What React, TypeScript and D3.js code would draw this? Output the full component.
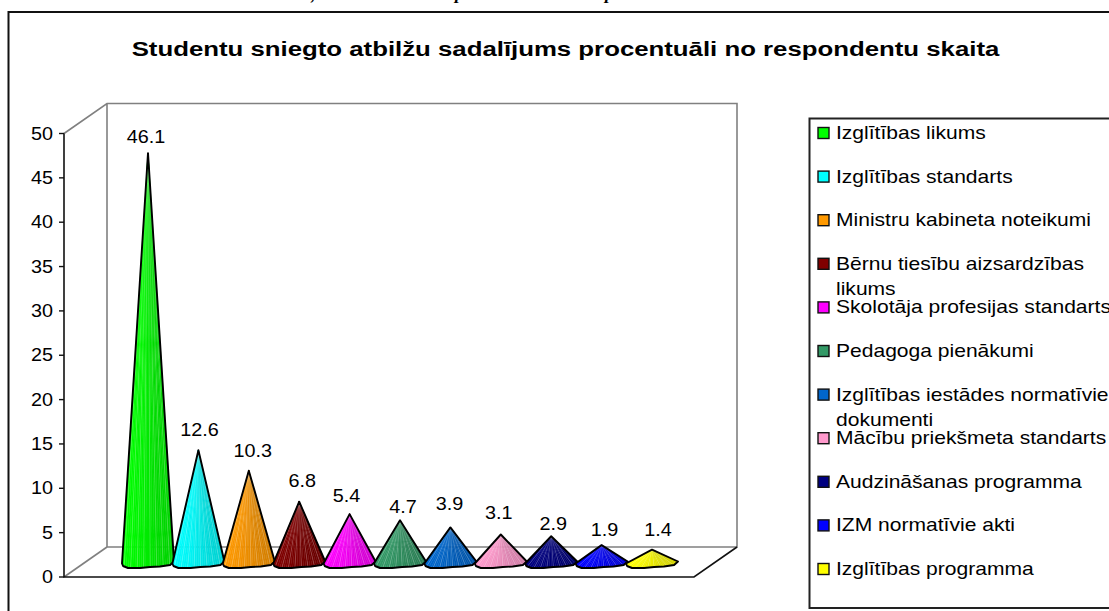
import React from "react";
import * as d3 from "d3";

const categories = [
  "Izglītības likums",
  "Izglītības standarts",
  "Ministru kabineta noteikumi",
  "Bērnu tiesību aizsardzības likums",
  "Skolotāja profesijas standarts",
  "Pedagoga pienākumi",
  "Izglītības iestādes normatīvie dokumenti",
  "Mācību priekšmeta standarts",
  "Audzināšanas programma",
  "IZM normatīvie akti",
  "Izglītības programma",
];
const values = [46.1, 12.6, 10.3, 6.8, 5.4, 4.7, 3.9, 3.1, 2.9, 1.9, 1.4];
const colors = ["#00ff00", "#00ffff", "#ff9900", "#800000", "#ff00ff", "#339966", "#0066cc", "#ff99cc", "#000080", "#0000ff", "#ffff00"];
const legendLines = [
  ["Izglītības likums"],
  ["Izglītības standarts"],
  ["Ministru kabineta noteikumi"],
  ["Bērnu tiesību aizsardzības", "likums"],
  ["Skolotāja profesijas standarts"],
  ["Pedagoga pienākumi"],
  ["Izglītības iestādes normatīvie", "dokumenti"],
  ["Mācību priekšmeta standarts"],
  ["Audzināšanas programma"],
  ["IZM normatīvie akti"],
  ["Izglītības programma"],
];
const yTicks = [0, 5, 10, 15, 20, 25, 30, 35, 40, 45, 50];
const title = "Studentu sniegto atbilžu sadalījums procentuāli no respondentu skaita";

// label placement nudges (px above apex, px right of apex)
const labelLift = [10, 14, 14, 15, 12, 7, 17, 16, 6, 9, 14];
const labelShift = [-2, 1, 4, 3, -3, 3, -1, -2, 2, 3, 6];
// shape of the cone's faceted base: fraction of half-width, px below centre
const baseProfile: [number, number][] = [
  [-1, 1.5], [-0.96, 4], [-0.77, 6], [-0.3, 6], [0.08, 5], [0.46, 4.5], [0.85, 3], [1, -0.5],
];

const FONT = "'Liberation Sans', Arial, sans-serif";

const y = d3.scaleLinear().domain([0, 50]).range([577, 133.5]);
const x = d3.scalePoint<string>().domain(categories).range([148, 652]);
const depth = { dx: 43, dy: -30 };
const front = { left: 64, right: 694 };
const legendY = d3.scaleLinear().domain([0, 10]).range([133, 569]);

const line = d3.line<[number, number]>();
const profX = d3.scaleLinear().domain(baseProfile.map((p) => p[0])).range(baseProfile.map((p) => p[1]));

function Stretched({ x: tx, y: ty, anchor, size, weight, children, sx = 1.1 }: any) {
  return (
    <text
      transform={`translate(${tx},${ty}) scale(${sx},1)`}
      textAnchor={anchor}
      fontSize={size}
      fontWeight={weight}
      fontFamily={FONT}
      fill="#000"
    >
      {children}
    </text>
  );
}

function Cone({ name, value, color }: { name: string; value: number; color: string }) {
  const cx = x(name)!;
  const apexY = y(value) + depth.dy / 2;
  const cy = y(0) + depth.dy / 2;
  const rx = 26;
  const n = 24;
  const us = d3.range(n + 1).map((i) => -1 + (2 * i) / n);
  const pts: [number, number][] = us.map((u) => [cx + u * rx, cy + profX(u)]);
  const shade = d3.scaleLinear<string>()
    .domain([0, 0.35, 0.7, 1])
    .range([color, d3.rgb(color).darker(0.15).formatHex(), d3.rgb(color).darker(0.4).formatHex(), d3.rgb(color).darker(0.55).formatHex()])
    .interpolate(d3.interpolateRgb as any);
  const apex: [number, number] = [cx, apexY];
  const outline = line([apex, ...baseProfile.map(([u, v]) => [cx + u * rx, cy + v] as [number, number])]) + "Z";
  return (
    <g>
      {d3.range(n).map((i) => {
        const col = shade((i + 0.5) / n);
        return <path key={i} d={line([apex, pts[i], pts[i + 1]]) + "Z"} fill={col} stroke={col} strokeWidth={0.4} />;
      })}
      {pts.filter((_, i) => i % 3 === 1).map((p, i) => (
        <line key={i} x1={apex[0]} y1={apex[1]} x2={p[0]} y2={p[1]} stroke="#fff" strokeOpacity={0.28} strokeWidth={0.7} />
      ))}
      <path d={outline} fill="none" stroke="#000" strokeWidth={1.9} strokeLinejoin="round" />
    </g>
  );
}

export default function App() {
  const y0 = y(0);
  const y50 = y(50);
  const backL = front.left + depth.dx;
  const backR = front.right + depth.dx;
  const backTop = y50 + depth.dy;
  const backBot = y0 + depth.dy;
  return (
    <svg width={1109} height={611} style={{ position: "absolute", left: 0, top: 0, display: "block", background: "#fff" }}>
      {/* clipped line of the document text above the chart */}
      <g fontFamily="'Liberation Serif', serif" fontStyle="italic" fontWeight="bold" fontSize={18}>
        <text x={311} y={0}>,</text>
        <text x={455} y={-1}>p</text>
        <text x={605} y={-1}>p</text>
      </g>
      {/* outer frame */}
      <path d="M8.5,611V12H1109" fill="none" stroke="#111" strokeWidth={2} />
      <Stretched x={565.5} y={56} anchor="middle" size={21} weight="bold" sx={1.228}>{title}</Stretched>

      {/* walls */}
      <g fill="none" stroke="#808080" strokeWidth={1.6}>
        <path d={`M${front.left},${y50}L${backL},${backTop}H${backR}V${backBot}H${backL}V${backTop}`} />
        <path d={`M${front.left},${y0}L${backL},${backBot}`} />
      </g>
      <g fill="none" stroke="#111" strokeWidth={1.6}>
        <path d={`M${front.left},${y50}V${y0}H${front.right}L${backR},${backBot}`} />
      </g>
      {yTicks.map((t) => (
        <g key={t}>
          <line x1={front.left - 5} x2={front.left} y1={y(t)} y2={y(t)} stroke="#111" strokeWidth={1.4} />
          <Stretched x={53} y={y(t) + 6} anchor="end" size={18}>{t}</Stretched>
        </g>
      ))}

      {/* cones */}
      {categories.map((c, i) => (
        <Cone key={c} name={c} value={values[i]} color={colors[i]} />
      ))}
      {categories.map((c, i) => (
        <Stretched key={c} x={x(c)! + labelShift[i]} y={y(values[i]) + depth.dy / 2 - labelLift[i]} anchor="middle" size={18}>
          {values[i].toFixed(1)}
        </Stretched>
      ))}

      {/* legend */}
      <path d="M1109,118.5H809.5V608H1109" fill="none" stroke="#222" strokeWidth={2} />
      {categories.map((c, i) => (
        <g key={c}>
          <rect x={818} y={legendY(i) - 5.5} width={11} height={11} fill={colors[i]} stroke="#111" strokeWidth={1.4} />
          {legendLines[i].map((l, j) => (
            <Stretched key={j} x={836} y={legendY(i) + 6 + j * 25.5} anchor="start" size={18} sx={1.17}>{l}</Stretched>
          ))}
        </g>
      ))}
    </svg>
  );
}
